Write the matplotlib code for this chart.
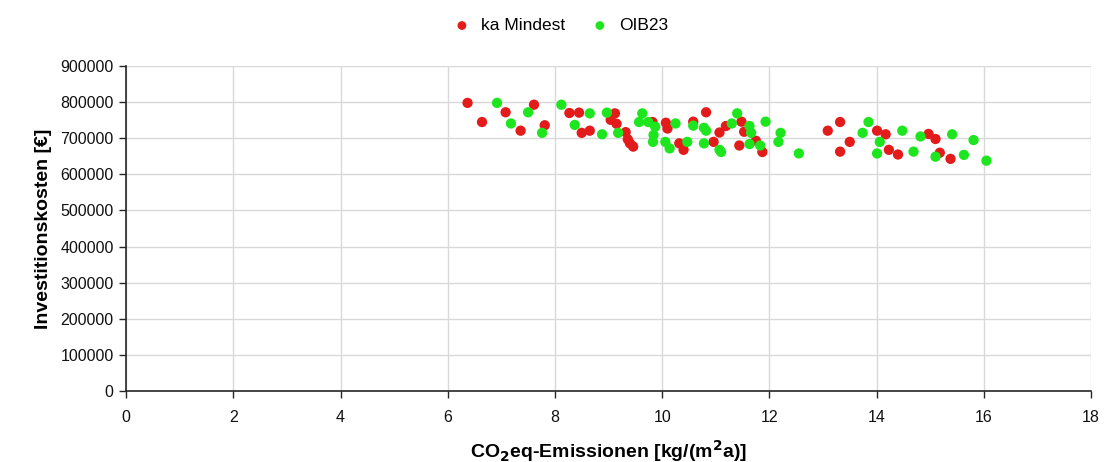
import matplotlib.pyplot as plt

plt.rcParams['font.family'] = ['Liberation Sans', 'DejaVu Sans']

# ka Mindest
ka_x = [6.37, 6.64, 7.08, 7.61, 7.36, 7.81, 8.27, 8.45, 8.50, 8.65, 9.12, 9.04,
        9.15, 9.32, 9.36, 9.40, 9.46, 9.82, 10.07, 10.10, 10.32, 10.40, 10.82,
        10.58, 11.07, 11.19, 11.48, 11.53, 10.96, 11.44, 11.75, 11.87, 13.09,
        13.32, 13.50, 13.32, 14.01, 14.17, 14.23, 14.40, 14.97, 15.10, 15.18,
        15.38]
ka_y = [798000, 745000, 772000, 793000, 721000, 736000, 770000, 771000, 715000,
        721000, 769000, 751000, 740000, 717000, 697000, 686000, 677000, 745000,
        743000, 727000, 686000, 668000, 772000, 746000, 716000, 734000, 746000,
        718000, 690000, 680000, 693000, 662000, 721000, 745000, 690000, 663000,
        721000, 711000, 668000, 655000, 712000, 698000, 660000, 643000]

# OIB23
oib_x = [6.92, 7.50, 7.18, 7.76, 8.12, 8.37, 8.65, 8.88, 8.97, 9.18, 9.63, 9.57,
         9.74, 9.87, 9.84, 9.83, 10.25, 10.06, 10.14, 10.47, 10.58, 10.78, 10.82,
         11.30, 11.40, 11.63, 11.66, 11.93, 10.78, 11.07, 11.10, 11.63, 11.83,
         12.21, 12.17, 12.55, 13.74, 13.85, 14.06, 14.01, 14.48, 14.69, 14.82,
         15.41, 15.81, 15.10, 15.63, 16.05]
oib_y = [798000, 772000, 741000, 715000, 793000, 737000, 769000, 711000, 771000,
         715000, 769000, 745000, 745000, 732000, 709000, 690000, 741000, 690000,
         672000, 690000, 735000, 729000, 721000, 741000, 769000, 734000, 715000,
         746000, 686000, 668000, 662000, 684000, 680000, 715000, 690000, 658000,
         715000, 745000, 690000, 658000, 721000, 663000, 705000, 711000, 695000,
         649000, 654000, 638000]

fig = plt.figure(figsize=(11.06, 4.62), dpi=100)
ax = fig.add_axes([0.114, 0.1537, 0.8724, 0.7033])

ax.scatter(ka_x, ka_y, s=55, color='#e41b1b', edgecolors='none', label='ka Mindest', zorder=3)
ax.scatter(oib_x, oib_y, s=55, color='#1ee61e', edgecolors='none', label='OIB23', zorder=3)

ax.set_xlim(0, 18)
ax.set_ylim(0, 900000)
ax.set_xticks(range(0, 19, 2))
ax.set_yticks(range(0, 900001, 100000))
ax.grid(True, color='#d9d9d9', linewidth=1)
ax.set_axisbelow(True)

for s in ['top', 'right']:
    ax.spines[s].set_visible(False)
for s in ['left', 'bottom']:
    ax.spines[s].set_color('#262626')
    ax.spines[s].set_linewidth(1.2)
ax.tick_params(axis='both', length=5, width=1, color='#262626', labelsize=11.5,
               labelcolor='#111111', pad=4)
ax.tick_params(axis='x', pad=9)

ax.set_xlabel('CO$_\\mathbf{2}$eq-Emissionen [kg/(m$^\\mathbf{2}$a)]', fontsize=14,
              fontweight='bold', labelpad=9)
ax.set_ylabel('Investitionskosten [€]', fontsize=14, fontweight='bold', labelpad=6)

fig.legend(loc='upper center', bbox_to_anchor=(0.503, 0.995), ncol=2, frameon=False,
           fontsize=12.5, handletextpad=0.1, columnspacing=1.0, markerscale=0.85)

fig.savefig('out.png', dpi=100)
